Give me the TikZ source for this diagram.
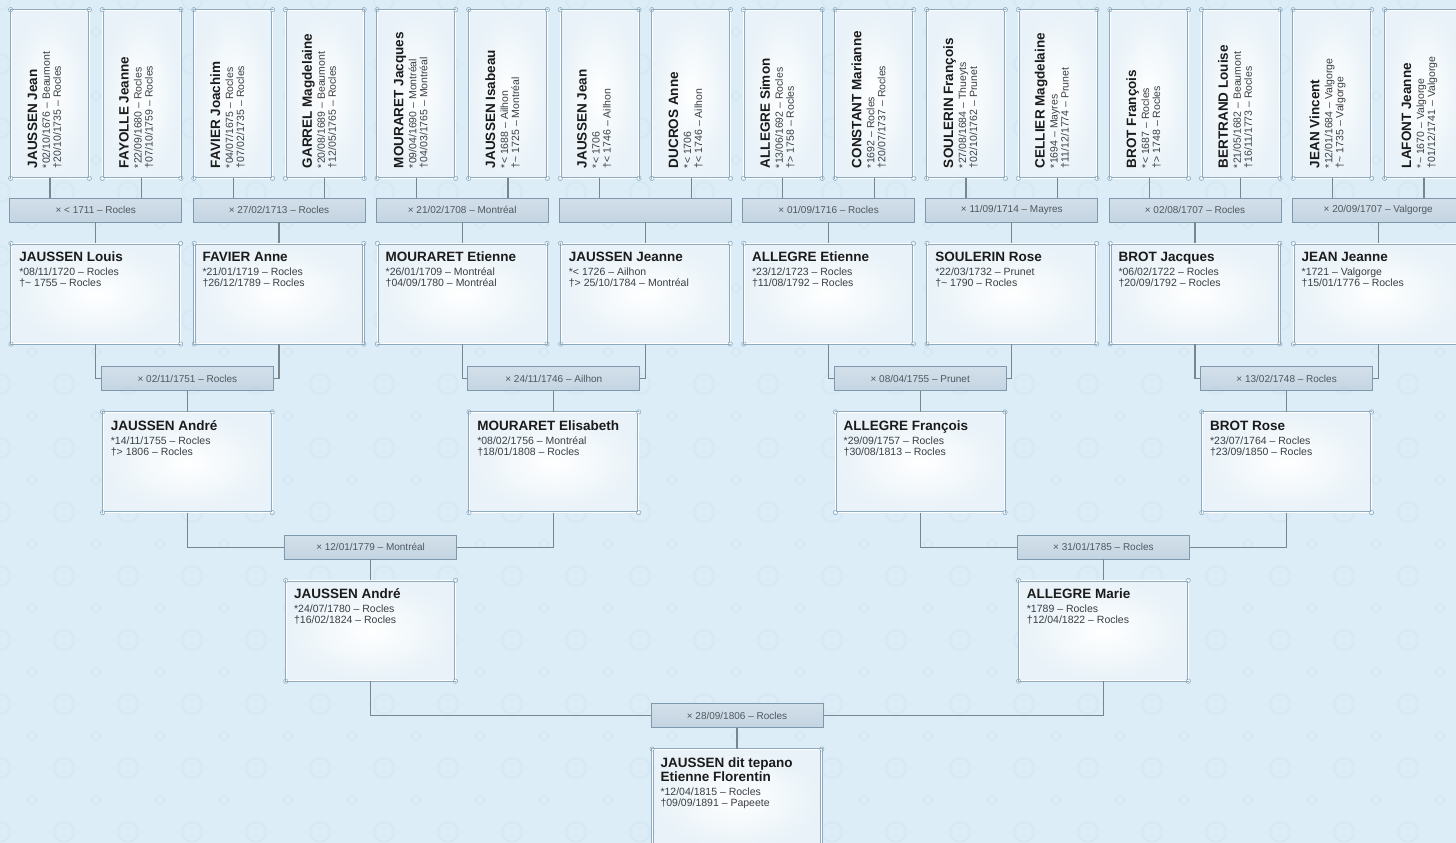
\documentclass[tikz,border=0pt]{standalone}
\usepackage{fontspec}
\setmainfont{Liberation Sans}
\usepackage{tikz}
\usetikzlibrary{calc,positioning}
\definecolor{paper}{HTML}{DCEDF7}
\definecolor{motifcol}{HTML}{D3E6F2}
\definecolor{cardline}{HTML}{8FA9BD}
\definecolor{cardedge}{HTML}{E8F2F8}
\definecolor{bartop}{HTML}{D3E0EA}
\definecolor{barbot}{HTML}{C3D4E1}
\definecolor{barline}{HTML}{7F98AC}
\definecolor{barink}{HTML}{4F5860}
\definecolor{wirecol}{HTML}{7A858D}
\definecolor{ink}{HTML}{1B1B1B}
\definecolor{dateink}{HTML}{3A3F44}
\newcommand\namef{\fontsize{13.5}{14.5}\selectfont\bfseries}
\newcommand\datef{\fontsize{10.5}{11}\selectfont}
\newcommand\barf{\fontsize{10}{11}\selectfont}
% card text: name, birth, death
\newcommand\pers[3]{\parbox[t][84pt][t]{153pt}{\raggedright
  {\namef\rule{0pt}{10pt}#1\rule[-3pt]{0pt}{3pt}\par}\vspace{3pt}{\datef\color{dateink}#2\par #3\par}}}
\newcommand\rpers[3]{\parbox[t][62pt][t]{148pt}{\vspace*{8pt}\raggedright
  {\namef\rule{0pt}{10pt}#1\rule[-3pt]{0pt}{3pt}\par}\vspace{2pt}{\datef\color{dateink}#2\par #3\par}}}
\newcommand\tld{\textasciitilde}
\tikzset{
  card base/.style={draw=cardline,line width=0.7pt,double=white,
    double distance=0.7pt,inner color=white,outer color=cardedge,text=ink},
  card/.style={card base,minimum width=169pt,minimum height=100pt,inner sep=8pt},
  tcard/.style={card base,rotate=90,minimum width=168pt,minimum height=78pt,
    inner xsep=10pt,inner ysep=8pt},
  union/.style={draw=barline,line width=0.7pt,top color=bartop,bottom color=barbot,
    minimum width=172pt,minimum height=24pt,inner sep=0pt,font=\barf,text=barink},
  wire/.style={draw=wirecol,line width=1.1pt},
  curl/.style={draw=cardline,line width=0.5pt},
  motif/.style={draw=motifcol,line width=1.2pt}
}

\begin{document}
\begin{tikzpicture}[x=1pt,y=-1pt,node distance=21pt]
  \useasboundingbox (0,0) rectangle (1456,843);
  \clip (0,0) rectangle (1456,843);
  \fill[paper] (0,0) rectangle (1456,843);
  % background pattern
  \foreach \x in {0,64,...,1472}
    \foreach \y in {0,64,...,896} {
      \draw[motif] (\x,\y) circle (10);
      \draw[motif] (\x+32,\y+32) circle (4);
    }

  % generation 5
  \node[tcard] (jaussenJ) at (50,94) {\rpers{JAUSSEN Jean}{*02/10/1676 – Beaumont}{†20/10/1735 – Rocles}};
  \node[tcard] (fayolle) at (141.6,94) {\rpers{FAYOLLE Jeanne}{*22/09/1680 – Rocles}{†07/10/1759 – Rocles}};
  \node[tcard] (favierJ) at (233.2,94) {\rpers{FAVIER Joachim}{*04/07/1675 – Rocles}{†07/02/1735 – Rocles}};
  \node[tcard] (garrel) at (324.8,94) {\rpers{GARREL Magdelaine}{*20/08/1689 – Beaumont}{†12/05/1765 – Rocles}};
  \node[tcard] (mouraretJ) at (416.4,94) {\rpers{MOURARET Jacques}{*09/04/1690 – Montréal}{†04/03/1765 – Montréal}};
  \node[tcard] (isabeau) at (508,94) {\rpers{JAUSSEN Isabeau}{*< 1688 – Ailhon}{†\tld{} 1725 – Montréal}};
  \node[tcard] (jaussenJn) at (599.6,94) {\rpers{JAUSSEN Jean}{*< 1706}{†< 1746 – Ailhon}};
  \node[tcard] (ducros) at (691.2,94) {\rpers{DUCROS Anne}{*< 1706}{†< 1746 – Ailhon}};
  \node[tcard] (simon) at (782.8,94) {\rpers{ALLEGRE Simon}{*13/06/1692 – Rocles}{†> 1758 – Rocles}};
  \node[tcard] (constant) at (874.4,94) {\rpers{CONSTANT Marianne}{*1692 – Rocles}{†20/07/1737 – Rocles}};
  \node[tcard] (soulerinF) at (966,94) {\rpers{SOULERIN François}{*27/08/1684 – Thueyts}{†02/10/1762 – Prunet}};
  \node[tcard] (cellier) at (1057.6,94) {\rpers{CELLIER Magdelaine}{*1694 – Mayres}{†11/12/1774 – Prunet}};
  \node[tcard] (brotF) at (1149.2,94) {\rpers{BROT François}{*< 1687 – Rocles}{†> 1748 – Rocles}};
  \node[tcard] (bertrand) at (1240.8,94) {\rpers{BERTRAND Louise}{*21/05/1682 – Beaumont}{†16/11/1773 – Rocles}};
  \node[tcard] (vincent) at (1332.4,94) {\rpers{JEAN Vincent}{*12/01/1684 – Valgorge}{†\tld{} 1735 – Valgorge}};
  \node[tcard] (lafont) at (1424,94) {\rpers{LAFONT Jeanne}{*\tld{} 1670 – Valgorge}{†01/12/1741 – Valgorge}};

  % marriages of generation 5
  \node[union] (xlouis) at ($(jaussenJ)!.5!(fayolle)+(0,116)$) {× < 1711 – Rocles};
  \node[union] (xanne) at ($(favierJ)!.5!(garrel)+(0,116)$) {× 27/02/1713 – Rocles};
  \node[union] (xetienneM) at ($(mouraretJ)!.5!(isabeau)+(0,116)$) {× 21/02/1708 – Montréal};
  \node[union] (xjeanne) at ($(jaussenJn)!.5!(ducros)+(0,116)$) {};
  \node[union] (xetienneA) at ($(simon)!.5!(constant)+(0,116)$) {× 01/09/1716 – Rocles};
  \node[union] (xrose) at ($(soulerinF)!.5!(cellier)+(0,116)$) {× 11/09/1714 – Mayres};
  \node[union] (xjacques) at ($(brotF)!.5!(bertrand)+(0,116)$) {× 02/08/1707 – Rocles};
  \node[union] (xjeanneJ) at ($(vincent)!.5!(lafont)+(0,116)$) {× 20/09/1707 – Valgorge};

  % generation 4
  \node[card,below=of xlouis] (louis) {\pers{JAUSSEN Louis}{*08/11/1720 – Rocles}{†\tld{} 1755 – Rocles}};
  \node[card,below=of xanne] (anne) {\pers{FAVIER Anne}{*21/01/1719 – Rocles}{†26/12/1789 – Rocles}};
  \node[card,below=of xetienneM] (etienneM) {\pers{MOURARET Etienne}{*26/01/1709 – Montréal}{†04/09/1780 – Montréal}};
  \node[card,below=of xjeanne] (jeanne) {\pers{JAUSSEN Jeanne}{*< 1726 – Ailhon}{†> 25/10/1784 – Montréal}};
  \node[card,below=of xetienneA] (etienneA) {\pers{ALLEGRE Etienne}{*23/12/1723 – Rocles}{†11/08/1792 – Rocles}};
  \node[card,below=of xrose] (rose) {\pers{SOULERIN Rose}{*22/03/1732 – Prunet}{†\tld{} 1790 – Rocles}};
  \node[card,below=of xjacques] (jacques) {\pers{BROT Jacques}{*06/02/1722 – Rocles}{†20/09/1792 – Rocles}};
  \node[card,below=of xjeanneJ] (jeanneJ) {\pers{JEAN Jeanne}{*1721 – Valgorge}{†15/01/1776 – Rocles}};

  % generation 3
  \node[union] (xandre1) at ($(louis.south)!.5!(anne.south)+(0,34.5)$) {× 02/11/1751 – Rocles};
  \node[union] (xelisabeth) at ($(etienneM.south)!.5!(jeanne.south)+(0,34.5)$) {× 24/11/1746 – Ailhon};
  \node[union] (xfrancois) at ($(etienneA.south)!.5!(rose.south)+(0,34.5)$) {× 08/04/1755 – Prunet};
  \node[union] (xroseB) at ($(jacques.south)!.5!(jeanneJ.south)+(0,34.5)$) {× 13/02/1748 – Rocles};
  \node[card,below=of xandre1] (andre1) {\pers{JAUSSEN André}{*14/11/1755 – Rocles}{†> 1806 – Rocles}};
  \node[card,below=of xelisabeth] (elisabeth) {\pers{MOURARET Elisabeth}{*08/02/1756 – Montréal}{†18/01/1808 – Rocles}};
  \node[card,below=of xfrancois] (francois) {\pers{ALLEGRE François}{*29/09/1757 – Rocles}{†30/08/1813 – Rocles}};
  \node[card,below=of xroseB] (roseB) {\pers{BROT Rose}{*23/07/1764 – Rocles}{†23/09/1850 – Rocles}};

  % generation 2
  \node[union] (xandre2) at ($(andre1.south)!.5!(elisabeth.south)+(0,34.5)$) {× 12/01/1779 – Montréal};
  \node[union] (xmarie) at ($(francois.south)!.5!(roseB.south)+(0,34.5)$) {× 31/01/1785 – Rocles};
  \node[card,below=of xandre2] (andre2) {\pers{JAUSSEN André}{*24/07/1780 – Rocles}{†16/02/1824 – Rocles}};
  \node[card,below=of xmarie] (marie) {\pers{ALLEGRE Marie}{*1789 – Rocles}{†12/04/1822 – Rocles}};

  % generation 1
  \node[union] (xetienneF) at ($(andre2.south)!.5!(marie.south)+(0,34.5)$) {× 28/09/1806 – Rocles};
  \node[card,below=of xetienneF] (etienneF) {\pers{JAUSSEN dit tepano\\Etienne Florentin}{*12/04/1815 – Rocles}{†09/09/1891 – Papeete}};

  % links
  \foreach \a/\b/\u in {jaussenJ/fayolle/xlouis,favierJ/garrel/xanne,
      mouraretJ/isabeau/xetienneM,jaussenJn/ducros/xjeanne,simon/constant/xetienneA,
      soulerinF/cellier/xrose,brotF/bertrand/xjacques,vincent/lafont/xjeanneJ} {
    \draw[wire] (\a) -- (\a |- \u.north);
    \draw[wire] (\b) -- (\b |- \u.north);
  }
  \foreach \a/\b/\u in {louis/anne/xandre1,etienneM/jeanne/xelisabeth,
      etienneA/rose/xfrancois,jacques/jeanneJ/xroseB,andre1/elisabeth/xandre2,
      francois/roseB/xmarie,andre2/marie/xetienneF} {
    \draw[wire] (\a.south) |- (\u.west);
    \draw[wire] (\b.south) |- (\u.east);
  }
  \foreach \u/\c in {xlouis/louis,xanne/anne,xetienneM/etienneM,xjeanne/jeanne,
      xetienneA/etienneA,xrose/rose,xjacques/jacques,xjeanneJ/jeanneJ,
      xandre1/andre1,xelisabeth/elisabeth,xfrancois/francois,xroseB/roseB,
      xandre2/andre2,xmarie/marie,xetienneF/etienneF}
    \draw[wire] (\u) -- (\c);

  % corner curls
  \foreach \n in {jaussenJ,fayolle,favierJ,garrel,mouraretJ,isabeau,jaussenJn,ducros,
      simon,constant,soulerinF,cellier,brotF,bertrand,vincent,lafont,
      louis,anne,etienneM,jeanne,etienneA,rose,jacques,jeanneJ,
      andre1,elisabeth,francois,roseB,andre2,marie,etienneF}
    \foreach \c in {north west,north east,south west,south east}
      \draw[curl] (\n.\c) circle (2.2);
\end{tikzpicture}
\end{document}
